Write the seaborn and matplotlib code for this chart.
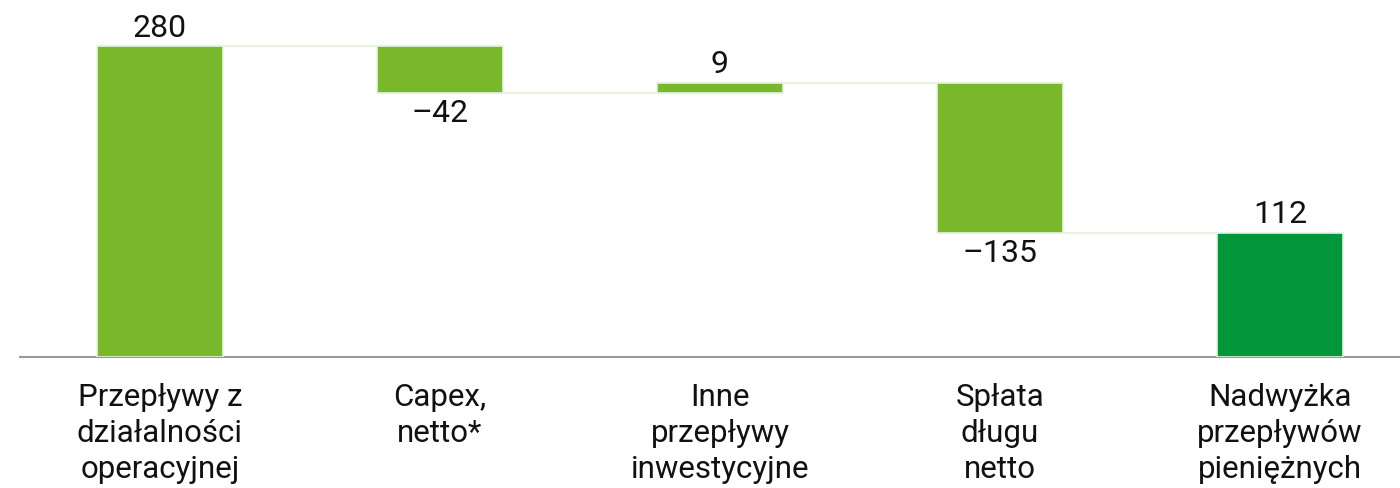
import matplotlib
matplotlib.use("Agg")
import matplotlib.pyplot as plt
import seaborn as sns
import numpy as np
import pandas as pd

# Cash-flow bridge (mln zł)
categories = [
    "Przepływy z\ndziałalności\noperacyjnej",
    "Capex,\nnetto*",
    "Inne\nprzepływy\ninwestycyjne",
    "Spłata\ndługu\nnetto",
    "Nadwyżka\nprzepływów\npieniężnych",
]
changes = [280, -42, 9, -135]
total = 112
value_labels = ["280", "\u201342", "9", "\u2013135", "112"]

light_green = "#78b82a"
dark_green = "#009639"
edge_green = "#e6f3e2"

# running levels for the floating bars
ends = np.cumsum(changes)
starts = ends - np.array(changes)
bottoms = [float(v) for v in np.minimum(starts, ends)] + [0.0]
heights = [float(v) for v in np.abs(changes)] + [float(total)]
tops = [b + h for b, h in zip(bottoms, heights)]

df = pd.DataFrame({"cat": categories, "height": heights, "bottom": bottoms})

sns.set_theme(style="white")
plt.rcParams["font.family"] = ["Roboto", "DejaVu Sans"]

fig = plt.figure(figsize=(14, 4.89), dpi=100)
ax = fig.add_axes([20 / 1400, 1 - 358 / 489, 1 - 20 / 1400, 358 / 489])

sns.barplot(
    data=df, x="cat", y="height", color=light_green, saturation=1,
    bottom=df["bottom"].values, width=0.45,
    edgecolor=edge_green, linewidth=1.2, ax=ax, zorder=3,
)
# the closing total bar in the darker green
ax.patches[-1].set_facecolor(dark_green)

# connectors between consecutive bars
half = 0.45 / 2
for i, lvl in enumerate(ends):
    ax.plot([i - half, i + 1 + half], [lvl, lvl], color=edge_green,
            lw=1.6, zorder=2, solid_capstyle="butt")

# value labels
for i, lab in enumerate(value_labels):
    if i < 4 and changes[i] < 0:
        ax.annotate(lab, (i, bottoms[i]), xytext=(0, -4), textcoords="offset points",
                    ha="center", va="top", fontsize=23, color="#111111")
    else:
        ax.annotate(lab, (i, tops[i]), xytext=(0, 3), textcoords="offset points",
                    ha="center", va="bottom", fontsize=23, color="#111111")

ax.set_xlim(-0.5, 4.4286)
ax.set_ylim(0, 322.2)
ax.set_xlabel("")
ax.set_ylabel("")
ax.set_yticks([])
ax.tick_params(axis="x", length=0, pad=18, labelsize=22.5, labelcolor="#111111")
for lbl in ax.get_xticklabels():
    lbl.set_linespacing(1.3)
for s in ["top", "right", "left"]:
    ax.spines[s].set_visible(False)
ax.spines["bottom"].set_color("#9a9a9a")
ax.spines["bottom"].set_linewidth(1.5)
ax.set_facecolor("white")

fig.savefig("out.png", dpi=100, facecolor="white")
